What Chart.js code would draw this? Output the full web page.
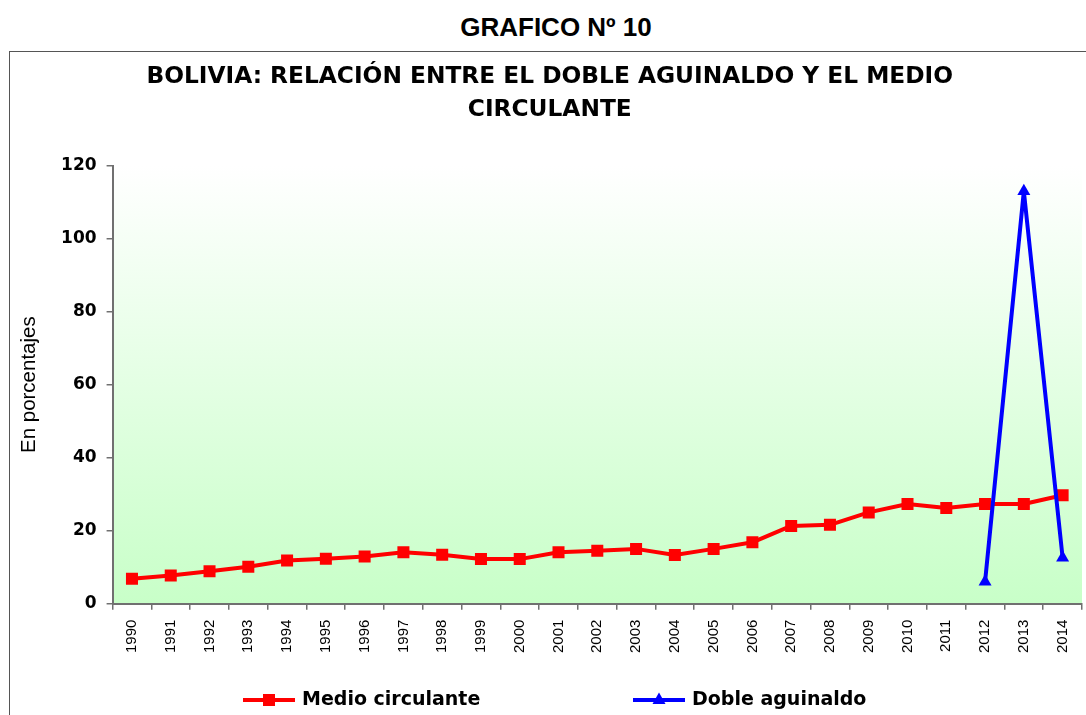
<!DOCTYPE html>
<html lang="es">
<head>
<meta charset="utf-8">
<title>Gráfico Nº 10</title>
<script src="https://cdn.jsdelivr.net/npm/chart.js@4.4.0/dist/chart.umd.min.js"></script>
<style>
  html, body { margin: 0; padding: 0; background: #ffffff; }
  body { width: 1086px; height: 715px; position: relative; overflow: hidden; }
  #encabezado {
    position: absolute; left: 556px; top: 12px; transform: translateX(-50%);
    font: bold 26px "Liberation Sans", Arial, sans-serif; line-height: 30px;
    color: #000; white-space: nowrap;
  }
  #marco {
    position: absolute; left: 9px; top: 51px; width: 1200px; height: 800px;
    border-top: 1.5px solid #555; border-left: 1.5px solid #555;
  }
  #grafico { position: absolute; left: 0; top: 0; }
</style>
</head>
<body>
<div id="encabezado">GRAFICO Nº 10</div>
<div id="marco"></div>
<canvas id="grafico" width="1086" height="715"></canvas>
<script>
// Datos
const anios = ["1990", "1991", "1992", "1993", "1994", "1995", "1996", "1997", "1998", "1999",
  "2000", "2001", "2002", "2003", "2004", "2005", "2006", "2007", "2008", "2009",
  "2010", "2011", "2012", "2013", "2014"];

const medioCirculante = [6.8, 7.7, 8.9, 10.1, 11.8, 12.3, 12.9, 14.1, 13.4, 12.2,
  12.2, 14.1, 14.5, 15.0, 13.3, 15.0, 16.8, 21.3, 21.6, 25.0,
  27.3, 26.2, 27.3, 27.3, 29.7];

const dobleAguinaldo = [null, null, null, null, null, null, null, null, null, null,
  null, null, null, null, null, null, null, null, null, null,
  null, null, 6.0, 113.0, 12.6];

const ticksY = [0, 20, 40, 60, 80, 100, 120];

// Fondo degradado del área de trazado
const fondoDegradado = {
  id: "fondoDegradado",
  beforeDraw(chart) {
    const { ctx, chartArea } = chart;
    const g = ctx.createLinearGradient(0, chartArea.top, 0, chartArea.bottom);
    g.addColorStop(0, "#ffffff");
    g.addColorStop(1, "#c8ffc8");
    ctx.save();
    ctx.fillStyle = g;
    ctx.fillRect(chartArea.left, chartArea.top, chartArea.right - chartArea.left, chartArea.bottom - chartArea.top);
    ctx.restore();
  }
};

// Leyenda inferior (línea + marcador + texto)
const leyendaInferior = {
  id: "leyendaInferior",
  afterDraw(chart) {
    const ctx = chart.ctx;
    const inicios = [243, 633];
    const y = 700;
    ctx.save();
    chart.data.datasets.forEach((ds, i) => {
      const x = inicios[i];
      ctx.strokeStyle = ds.borderColor;
      ctx.lineWidth = 4;
      ctx.beginPath();
      ctx.moveTo(x, y);
      ctx.lineTo(x + 52, y);
      ctx.stroke();
      ctx.fillStyle = ds.pointBackgroundColor;
      const cx = x + 26;
      if (ds.pointStyle === "rect") {
        ctx.fillRect(cx - 6, y - 6, 12, 12);
      } else {
        ctx.beginPath();
        ctx.moveTo(cx, y - 7.5);
        ctx.lineTo(cx + 6.5, y + 4);
        ctx.lineTo(cx - 6.5, y + 4);
        ctx.closePath();
        ctx.fill();
      }
      ctx.fillStyle = "#000";
      ctx.font = "bold 19px 'DejaVu Sans'";
      ctx.textBaseline = "middle";
      ctx.textAlign = "left";
      ctx.fillText(ds.label, x + 59, y);
    });
    ctx.restore();
  }
};

new Chart(document.getElementById("grafico").getContext("2d"), {
  type: "line",
  data: {
    labels: anios,
    datasets: [
      {
        label: "Medio circulante",
        data: medioCirculante,
        borderColor: "#ff0000",
        backgroundColor: "#ff0000",
        pointBackgroundColor: "#ff0000",
        pointBorderColor: "#ff0000",
        borderWidth: 4,
        borderJoinStyle: "round",
        pointStyle: "rect",
        pointRadius: 8.5,
        pointBorderWidth: 0,
        tension: 0,
        order: 2,
      },
      {
        label: "Doble aguinaldo",
        data: dobleAguinaldo,
        borderColor: "#0000ff",
        backgroundColor: "#0000ff",
        pointBackgroundColor: "#0000ff",
        pointBorderColor: "#0000ff",
        borderWidth: 4,
        borderJoinStyle: "round",
        pointStyle: "triangle",
        pointRadius: 7.5,
        pointBorderWidth: 0,
        tension: 0,
        order: 1,
      },
    ],
  },
  options: {
    responsive: false,
    animation: false,
    layout: { autoPadding: false, padding: { left: 17.5, right: 4, top: 0, bottom: 52 } },
    plugins: {
      legend: { display: false },
      tooltip: { enabled: false },
      title: {
        display: true,
        text: ["BOLIVIA: RELACIÓN ENTRE EL DOBLE AGUINALDO Y EL MEDIO", "CIRCULANTE"],
        color: "#000",
        font: { family: "'DejaVu Sans'", size: 23.3, weight: "bold", lineHeight: 1.42 },
        padding: { top: 60.5, bottom: 39 },
      },
    },
    scales: {
      x: {
        offset: true,
        afterFit(scale) { scale.paddingRight = 0; scale.paddingLeft = 0; },
        grid: { offset: true, drawOnChartArea: false, drawTicks: true, tickLength: 6, color: "#707070", lineWidth: 1.5 },
        border: { color: "#707070", width: 2 },
        ticks: {
          autoSkip: false, minRotation: 90, maxRotation: 90, padding: 10,
          color: "#000", font: { family: "'Liberation Sans'", size: 15 },
        },
      },
      y: {
        min: 0, max: 120,
        afterBuildTicks(scale) { scale.ticks = ticksY.map(v => ({ value: v })); },
        grid: { drawOnChartArea: false, drawTicks: true, tickLength: 6, color: "#707070", lineWidth: 1.5 },
        border: { color: "#707070", width: 2 },
        ticks: { padding: 10, color: "#000", font: { family: "'DejaVu Sans'", size: 17, weight: "bold" } },
        title: {
          display: true, text: "En porcentajes", color: "#000",
          font: { family: "'Liberation Sans'", size: 20.5 },
          padding: { top: 0, bottom: 9 },
        },
      },
    },
  },
  plugins: [fondoDegradado, leyendaInferior],
});
</script>
</body>
</html>
